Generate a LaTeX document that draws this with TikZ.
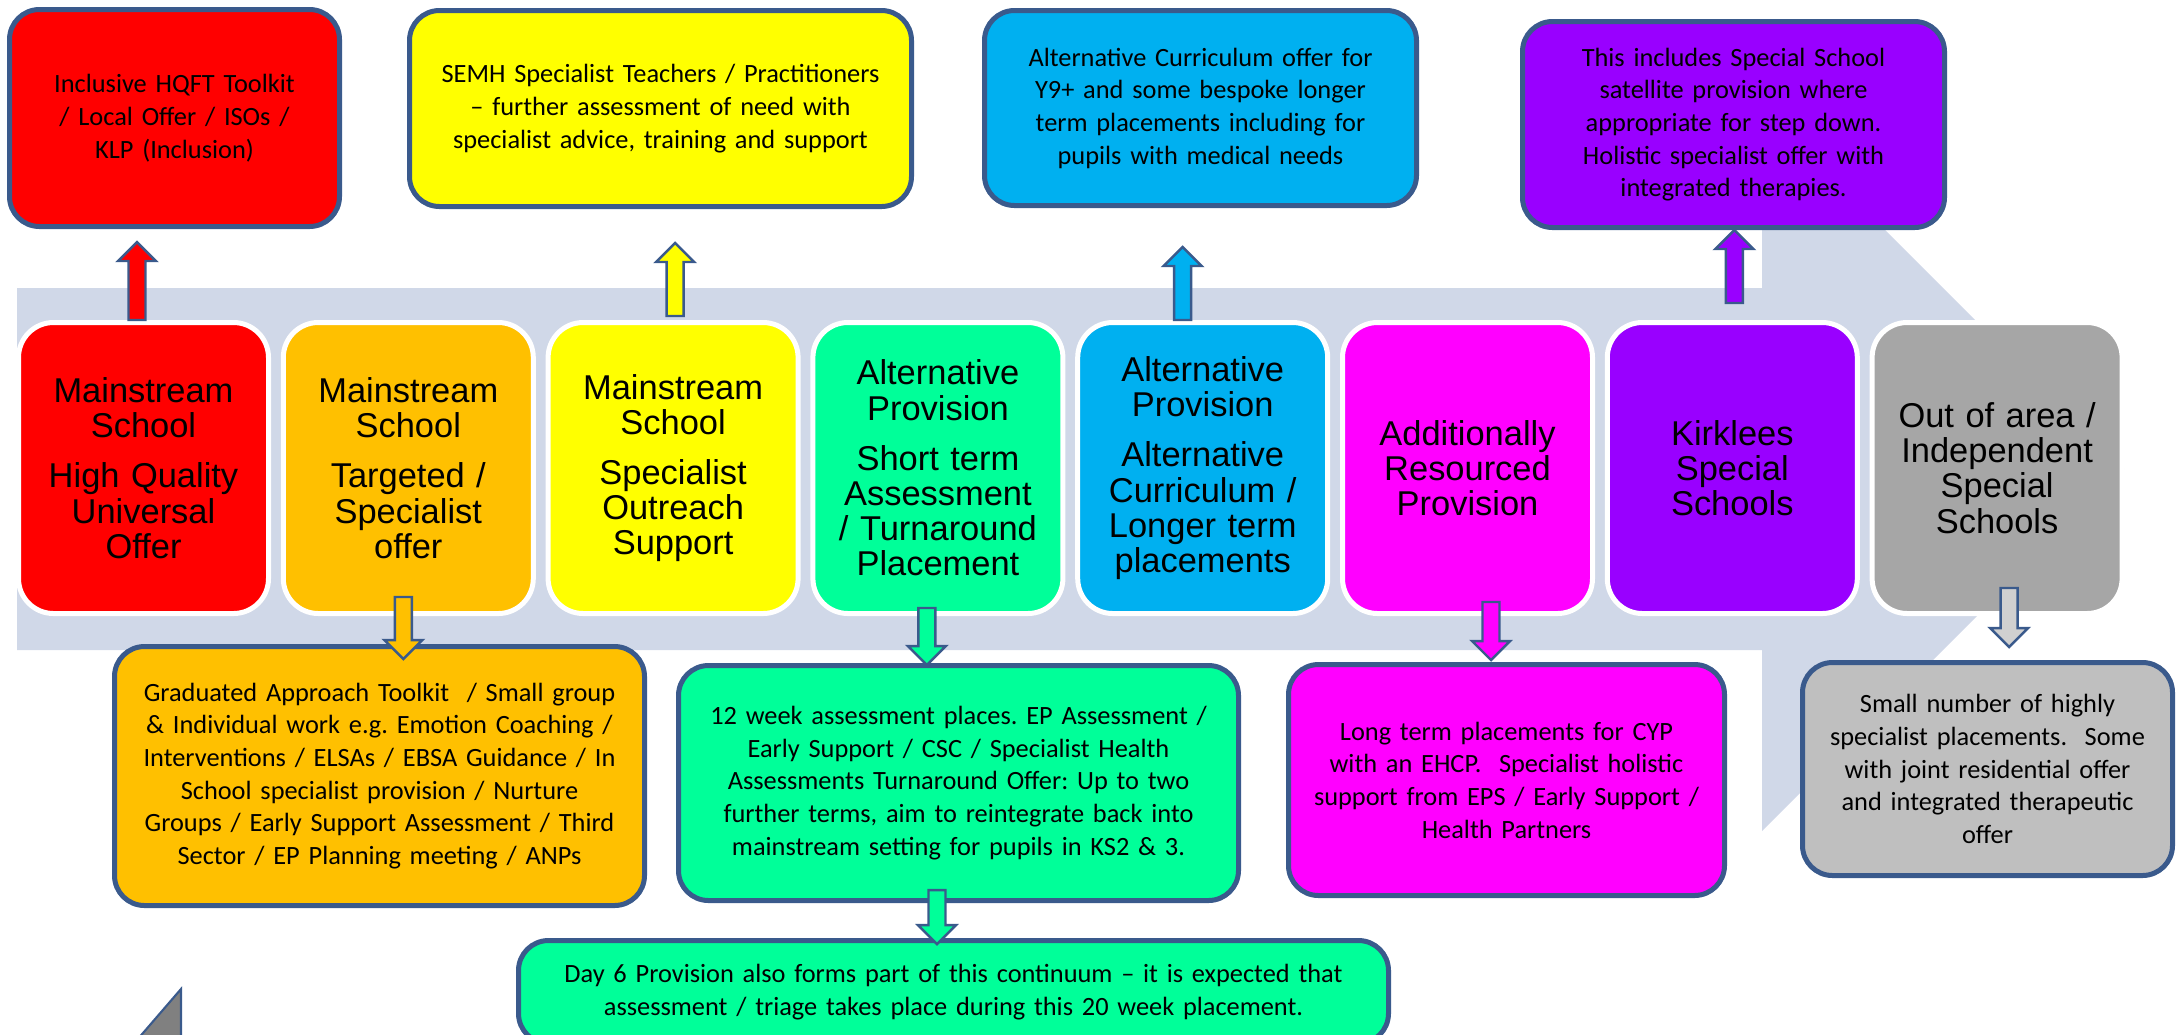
\documentclass[tikz,border=0pt]{standalone}
\usepackage{fontspec}
\usetikzlibrary{calc}
\newfontfamily\notefont{Carlito}
\newfontfamily\stagefont{Liberation Sans}
\frenchspacing

\definecolor{edgeblue}{RGB}{58,90,140}
\definecolor{chevron}{RGB}{208,216,232}
\definecolor{cRed}{RGB}{255,0,0}
\definecolor{cOrange}{RGB}{255,192,0}
\definecolor{cYellow}{RGB}{255,255,0}
\definecolor{cGreen}{RGB}{0,255,153}
\definecolor{cBlue}{RGB}{0,176,240}
\definecolor{cMagenta}{RGB}{255,0,255}
\definecolor{cPurple}{RGB}{153,0,255}
\definecolor{cGrey}{RGB}{166,166,166}
\definecolor{cLightGrey}{RGB}{191,191,191}
\definecolor{cPale}{RGB}{208,208,208}
\definecolor{cDark}{RGB}{128,128,128}

\tikzset{
  stage/.style={draw=white, line width=0.5mm, rounded corners=3.5mm, minimum width=2.5cm, minimum height=2.91cm,
    text width=2.4cm, inner sep=0pt, align=center, font=\stagefont\fontsize{9.8pt}{10pt}\selectfont},
  note/.style={draw=edgeblue, line width=0.5mm, rounded corners=3mm, inner sep=0pt, align=center,
    font=\notefont\fontsize{7.5pt}{9.3pt}\selectfont},
  blockline/.style={draw=edgeblue, line width=0.7pt, line join=miter},
}

% start, tip, fill, offset of the head base from the tip
\newcommand{\blockarrow}[4]{%
  \draw[blockline, fill=#3] let \p1=#1, \p2=#2 in
    (\x1-0.85mm,\y1) -- (\x1-0.85mm,\y2#4) -- (\x1-1.9mm,\y2#4) -- (\x1,\y2)
    -- (\x1+1.9mm,\y2#4) -- (\x1+0.85mm,\y2#4) -- (\x1+0.85mm,\y1) -- cycle;
}

\begin{document}
\begin{tikzpicture}[x=0.1mm, y=-0.1mm]

\useasboundingbox (0,0) rectangle (2177,1034);
\clip (0,0) rectangle (2177,1034);

\fill[chevron] (17,288) -- (1762,288) -- (1762,107) -- (2124,469) -- (1762,831) -- (1762,650) -- (17,650) -- cycle;
\filldraw[fill=cDark, draw=edgeblue, line width=0.6pt] (137,1040) -- (181,989) -- (181,1040) -- cycle;

\node[stage, fill=cRed] (MSU) at (143.5,468) {Mainstream\\School\\[4.3pt]High Quality\\Universal\\Offer};
\node[stage, fill=cOrange] (MST) at (408.3,468) {Mainstream\\School\\[4.3pt]Targeted /\\Specialist\\offer};
\node[stage, fill=cYellow] (MSO) at (673.1,468) {Mainstream\\School\\[4.3pt]Specialist\\Outreach\\Support};
\node[stage, fill=cGreen] (APS) at (937.9,468) {Alternative\\Provision\\[4.3pt]Short term\\Assessment\\/ Turnaround\\Placement};
\node[stage, fill=cBlue] (APC) at (1202.7,468) {Alternative\\Provision\\[4.3pt]Alternative\\Curriculum /\\Longer term\\placements};
\node[stage, fill=cMagenta] (ARP) at (1467.5,468) {Additionally\\Resourced\\Provision};
\node[stage, fill=cPurple] (KSS) at (1732.3,468) {Kirklees\\Special\\Schools};
\node[stage, fill=cGrey] (OOA) at (1997.1,468) {Out of area /\\Independent\\Special\\Schools};

\node[note, fill=cRed, minimum width=3.3cm, minimum height=2.17cm, text width=3.1cm] (TOOLKIT) at (174.5,118)
  {Inclusive HQFT Toolkit\\/ Local Offer / ISOs /\\KLP (Inclusion)};
\node[note, fill=cYellow, minimum width=5.02cm, minimum height=1.96cm, text width=4.8cm] (SEMH) at (660.5,108.5)
  {SEMH Specialist Teachers / Practitioners\\– further assessment of need with\\specialist advice, training and support};
\node[note, fill=cBlue, minimum width=4.32cm, minimum height=1.95cm, text width=4.1cm] (ALTCUR) at (1200.5,108)
  {Alternative Curriculum offer for\\Y9+ and some bespoke longer\\term placements including for\\pupils with medical needs};
\node[note, fill=cPurple, minimum width=4.22cm, minimum height=2.06cm, text width=4cm] (SATELLITE) at (1733.5,124.5)
  {This includes Special School\\satellite provision where\\appropriate for step down.\\Holistic specialist offer with\\integrated therapies.};

\node[note, fill=cOrange, minimum width=5.3cm, minimum height=2.59cm, text width=5.1cm] (GRADUATED) at (379.5,776)
  {Graduated Approach Toolkit~ / Small group\\\& Individual work e.g. Emotion Coaching /\\Interventions / ELSAs / EBSA Guidance / In\\School specialist provision / Nurture\\Groups / Early Support Assessment / Third\\Sector / EP Planning meeting / ANPs};
\node[note, fill=cGreen, minimum width=5.6cm, minimum height=2.35cm, text width=5.4cm] (ASSESS) at (958.5,783)
  {12 week assessment places. EP Assessment /\\Early Support / CSC / Specialist Health\\Assessments Turnaround Offer: Up to two\\further terms, aim to reintegrate back into\\mainstream setting for pupils in KS2 \& 3.};
\node[note, fill=cMagenta, minimum width=4.36cm, minimum height=2.31cm, text width=4.2cm] (LONGTERM) at (1506.5,780)
  {Long term placements for CYP\\with an EHCP.~ Specialist holistic\\support from EPS / Early Support /\\Health Partners};
\node[note, fill=cLightGrey, minimum width=3.7cm, minimum height=2.13cm, text width=3.5cm] (HIGHSPEC) at (1987.5,769)
  {Small number of highly\\specialist placements.~ Some\\with joint residential offer\\and integrated therapeutic\\offer};
\node[note, fill=cGreen, minimum width=8.7cm, minimum height=1.03cm, text width=8.5cm] (DAY6) at (953.5,992)
  {Day 6 Provision also forms part of this continuum – it is expected that\\assessment / triage takes place during this 20 week placement.};

\blockarrow{($(MSU.north)+(-0.65mm,0)$)}{($(TOOLKIT.south)+(0,-1.3mm)$)}{cRed}{-1.9mm}
\blockarrow{($(MSO.north)+(0.2mm,0.4mm)$)}{($(SEMH.south)+(0,-3.4mm)$)}{cYellow}{-1.9mm}
\blockarrow{($(APC.north)+(-2mm,0)$)}{($(ALTCUR.south)+(0,-3.9mm)$)}{cBlue}{-1.9mm}
\blockarrow{($(KSS.north)+(0.2mm,1.7mm)$)}{(SATELLITE.south)}{cPurple}{-1.9mm}
\blockarrow{($(MST.south)+(-0.5mm,1.9mm)$)}{($(GRADUATED.north)+(0,-1.5mm)$)}{cOrange}{+1.9mm}
\blockarrow{($(APS.south)+(-1.1mm,0.8mm)$)}{($(ASSESS.north)+(0,-0.2mm)$)}{cGreen}{+1.9mm}
\blockarrow{($(ASSESS.south)+(-2.15mm,1.3mm)$)}{($(DAY6.north)+(0,-0.6mm)$)}{cGreen}{+1.9mm}
\blockarrow{($(ARP.south)+(2.35mm,1.4mm)$)}{($(LONGTERM.north)+(0,0.2mm)$)}{cMagenta}{+1.9mm}
\blockarrow{($(OOA.south)+(1.2mm,2.8mm)$)}{($(HIGHSPEC.north)+(0,1.3mm)$)}{cPale}{+1.9mm}

\end{tikzpicture}
\end{document}
